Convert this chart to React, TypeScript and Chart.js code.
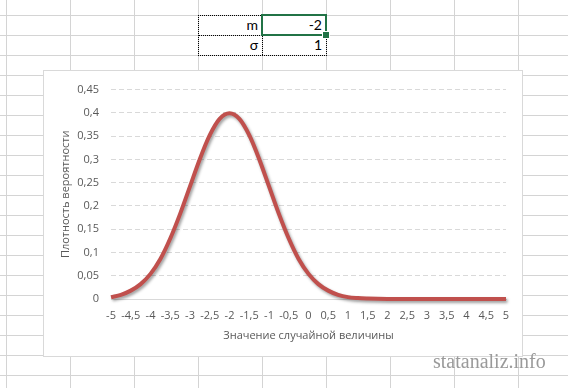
import React, { useEffect, useRef } from "react";
import { Chart, registerables } from "chart.js";

Chart.register(...registerables);

const xValues = [
  -5, -4.75, -4.5, -4.25, -4, -3.75, -3.5, -3.25, -3, -2.75, -2.5, -2.25, -2,
  -1.75, -1.5, -1.25, -1, -0.75, -0.5, -0.25, 0, 0.25, 0.5, 0.75, 1, 1.25, 1.5,
  1.75, 2, 2.25, 2.5, 2.75, 3, 3.25, 3.5, 3.75, 4, 4.25, 4.5, 4.75, 5,
];
const densityValues = [
  0.004, 0.009, 0.018, 0.032, 0.054, 0.086, 0.13, 0.183, 0.242, 0.301, 0.352,
  0.387, 0.399, 0.387, 0.352, 0.301, 0.242, 0.183, 0.13, 0.086, 0.054, 0.032,
  0.018, 0.009, 0.004, 0.002, 0.001, 0.0004, 0.0001, 0, 0, 0, 0, 0, 0, 0, 0, 0,
  0, 0, 0,
];
const cellLabels = ["m", "σ"];
const cellValues = ["-2", "1"];
const xAxisTitle = "Значение случайной величины";
const yAxisTitle = "Плотность вероятности";
const watermark = "statanaliz.info";

const fmt = (v: number) =>
  String(Number(Number(v).toFixed(2))).replace(".", ",");

const shadowPlugin = {
  id: "lineShadow",
  beforeDatasetDraw(chart: any) {
    const ctx = chart.ctx;
    ctx.save();
    ctx.shadowColor = "rgba(0,0,0,0.38)";
    ctx.shadowBlur = 3;
    ctx.shadowOffsetX = 1.5;
    ctx.shadowOffsetY = 2;
  },
  afterDatasetDraw(chart: any) {
    chart.ctx.restore();
  },
};

function NormalChart() {
  const ref = useRef<HTMLCanvasElement | null>(null);
  useEffect(() => {
    if (!ref.current) return;
    const font = { family: "'Open Sans'", size: 11 };
    const chart = new Chart(ref.current, {
      type: "line",
      data: {
        datasets: [
          {
            data: xValues.map((x, i) => ({ x, y: densityValues[i] })),
            borderColor: "#C0504D",
            borderWidth: 4,
            pointRadius: 0,
            cubicInterpolationMode: "monotone",
            fill: false,
            clip: 8,
          } as any,
        ],
      },
      options: {
        animation: false,
        responsive: false,
        maintainAspectRatio: false,
        layout: { padding: { top: 13, right: 16, left: 0, bottom: 0 } },
        plugins: { legend: { display: false }, tooltip: { enabled: false } },
        scales: {
          x: {
            type: "linear",
            min: -5,
            max: 5,
            afterFit: (s: any) => {
              s.height = 57;
            },
            ticks: {
              stepSize: 0.5,
              autoSkip: false,
              maxRotation: 0,
              padding: 10,
              color: "#595959",
              font,
              callback: (v: any) => fmt(v),
            },
            grid: { display: false, drawTicks: false },
            border: { display: true, color: "#d9d9d9", width: 1 },
            title: {
              display: true,
              text: xAxisTitle,
              color: "#595959",
              font,
              padding: { top: 0, bottom: 14 },
            },
          },
          y: {
            min: 0,
            max: 0.45,
            afterFit: (s: any) => {
              s.width = 67;
            },
            ticks: {
              stepSize: 0.05,
              padding: 12,
              color: "#595959",
              font,
              callback: (v: any) => fmt(v),
            },
            grid: { color: "#d9d9d9", drawTicks: false, lineWidth: 1 },
            border: { display: false, dash: [5, 3] },
            title: {
              display: true,
              text: yAxisTitle,
              color: "#595959",
              font,
              padding: { top: 15, bottom: 0 },
            },
          },
        },
      } as any,
      plugins: [shadowPlugin],
    });
    return () => chart.destroy();
  }, []);
  return <canvas ref={ref} width={478} height={285} style={{ display: "block" }} />;
}

export default function App() {
  const cellFont: React.CSSProperties = {
    position: "absolute",
    fontFamily: "Lato, 'Open Sans', sans-serif",
    fontSize: 14,
    lineHeight: "20px",
    textAlign: "right",
    color: "#000",
    width: 60,
  };
  return (
    <div
      style={{
        position: "fixed",
        left: 0,
        top: 0,
        width: 568,
        height: 388,
        overflow: "hidden",
        backgroundColor: "#fff",
        backgroundImage:
          "linear-gradient(to right, #d4d4d4 1px, transparent 1px), linear-gradient(to bottom, #d4d4d4 1px, transparent 1px)",
        backgroundSize: "64px 20px",
        backgroundPosition: "6px 15px",
      }}
    >
      {/* dotted copy range */}
      <div
        style={{
          position: "absolute",
          left: 198,
          top: 15,
          width: 129,
          height: 41,
          boxSizing: "border-box",
          border: "1px dotted #000",
        }}
      />
      <div style={{ position: "absolute", left: 198, top: 35, width: 64, height: 0, borderTop: "1px dotted #000" }} />
      <div style={{ position: "absolute", left: 262, top: 35, width: 0, height: 20, borderLeft: "1px dotted #000" }} />
      <div style={{ ...cellFont, left: 198, top: 15 }}>{cellLabels[0]}</div>
      <div style={{ ...cellFont, left: 198, top: 35 }}>{cellLabels[1]}</div>
      <div style={{ ...cellFont, left: 262, top: 15, background: "#fff", height: 20 }}>
        {cellValues[0]}
      </div>
      <div style={{ ...cellFont, left: 262, top: 35 }}>{cellValues[1]}</div>
      {/* selection */}
      <div
        style={{
          position: "absolute",
          left: 261,
          top: 14,
          width: 66,
          height: 22,
          boxSizing: "border-box",
          border: "2px solid #217346",
        }}
      />
      <div
        style={{
          position: "absolute",
          left: 323,
          top: 32,
          width: 6,
          height: 6,
          background: "#217346",
          boxShadow: "0 0 0 1px #fff",
        }}
      />
      {/* chart */}
      <div
        style={{
          position: "absolute",
          left: 43,
          top: 70,
          width: 480,
          height: 287,
          boxSizing: "border-box",
          border: "1px solid #d9d9d9",
          background: "#fff",
        }}
      >
        <NormalChart />
      </div>
      <div
        style={{
          position: "absolute",
          left: 433,
          top: 349,
          fontFamily: "'Liberation Serif', serif",
          fontSize: 20,
          lineHeight: "24px",
          color: "#9a9a9a",
          whiteSpace: "nowrap",
        }}
      >
        {watermark}
      </div>
    </div>
  );
}
